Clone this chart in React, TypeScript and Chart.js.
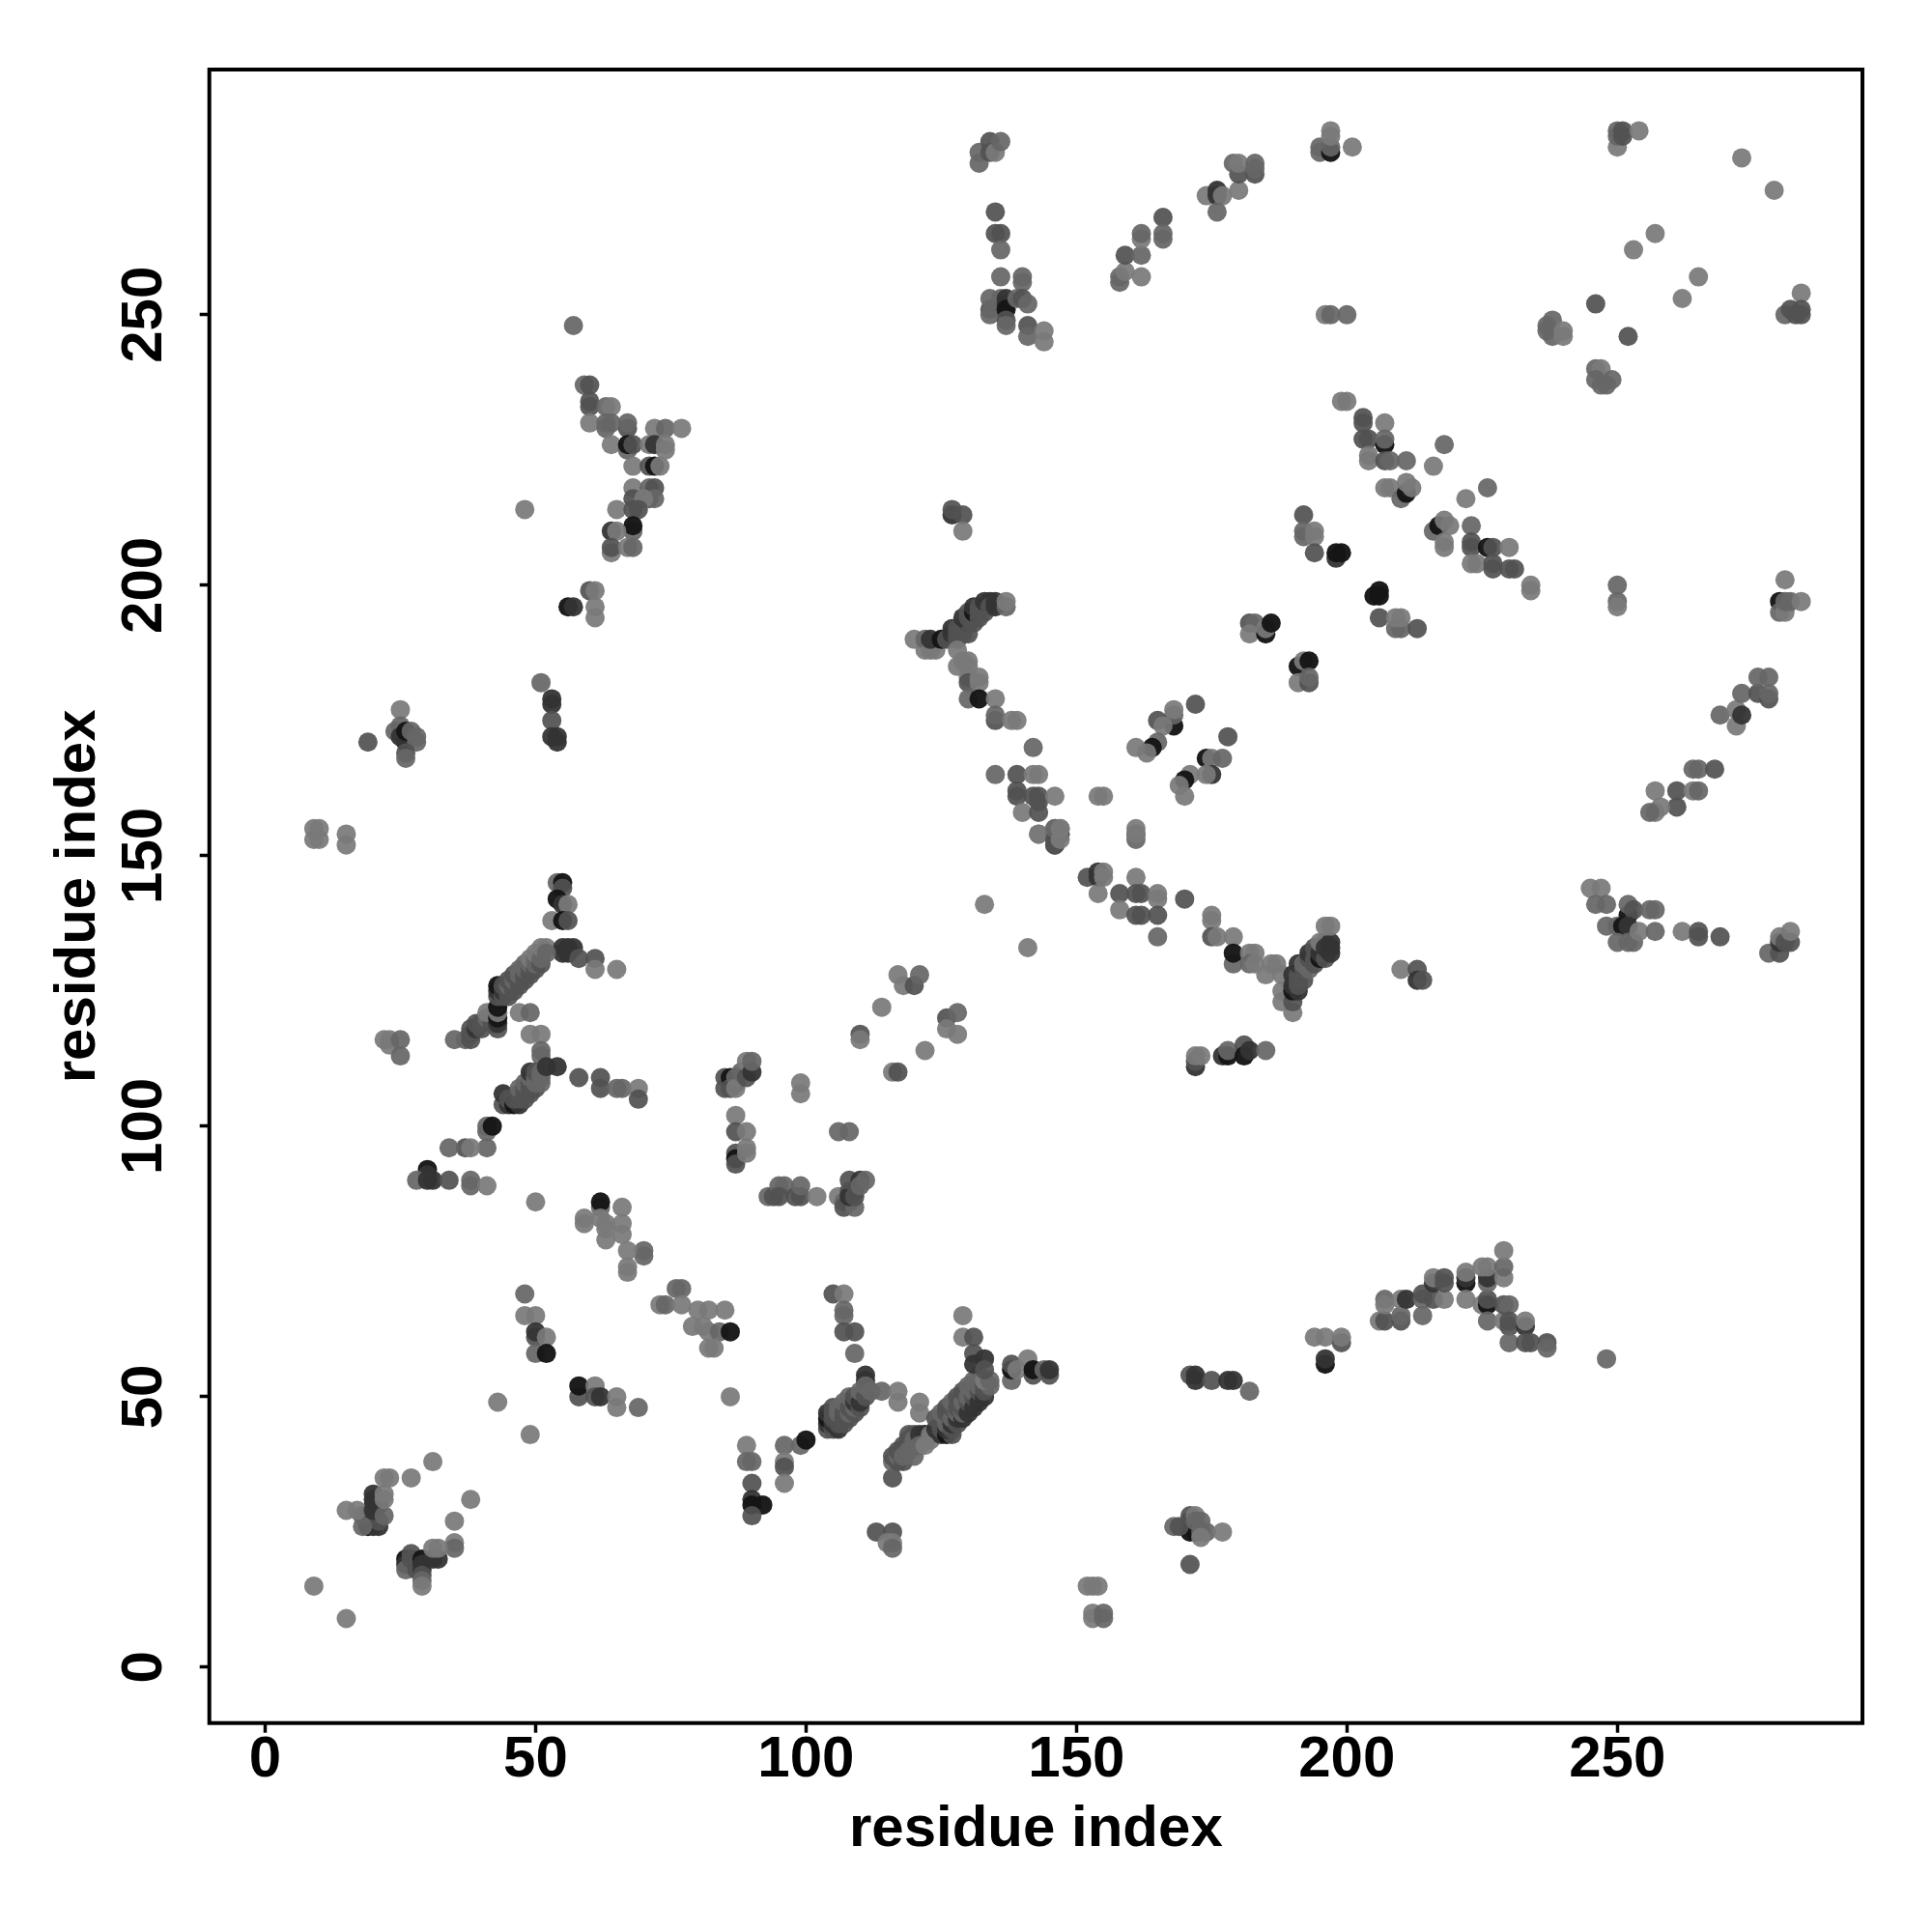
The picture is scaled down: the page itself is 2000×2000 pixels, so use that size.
import React, { useEffect, useRef } from "react";
import { Chart, registerables } from "chart.js";

Chart.register(...registerables);

type Contact = [number, number, number];

const tickValues = [0, 50, 100, 150, 200, 250];
const axisTitle = "residue index";

const lowLeft: Contact[] = [
  [9,15,1],[15,9,1],[31,38,1],[27,35,1],[22,35,1],[23,35,1],[38,31,1],[35,27,1],[35,23,1],[35,22,2],
  [20,32,4],[20,31,4],[20,30,4],[21,30,4],[19,28,4],[19,26,5],[20,26,4],[21,26,4],[20,27,4],[21,27,3],[18,28,3],[18,26,2],[15,29,1],[17,29,1],[20,29,4],[22,28,2],[22,32,1],[22,31,1],
  [26,20,5],[26,19,4],[26,18,2],[27,21,3],[27,20,3],[28,18,3],[28,19,3],[29,20,5],[29,19,4],[29,18,4],[29,17,3],[29,16,2],[29,15,1],[31,20,4],[32,20,4],[31,22,1],[32,22,1],
];
const lowStrandA: Contact[] = [
  [48,69,2],[48,65,1],[50,65,1],[50,61,3],[50,62,4],[52,61,1],[50,58,2],[52,58,5],
  [58,50,3],[58,52,5],[61,52,1],[61,50,3],[62,50,4],[65,50,1],[65,48,1],[69,48,2],[43,49,1],[49,43,1],
];
const lowStrandB: Contact[] = [
  [67,74,1],[67,73,1],[70,77,2],[70,76,2],[67,77,1],[76,70,2],[77,70,2],[73,67,1],[74,67,2],[77,67,1],[80,66,1],[82,66,1],[85,66,1],[79,63,1],[81,63,1],[82,62,1],[84,62,2],[86,62,5],[82,59,1],[83,59,1],[86,50,1],
];
const lowStrandC: Contact[] = [
  [89,41,1],[89,38,2],[90,38,2],[90,34,3],[90,31,4],[90,30,5],[92,30,5],[90,28,3],
  [96,41,2],[96,38,1],[96,37,3],[96,34,1],[99,41,2],[100,42,5],
];
const diagonalOne: Contact[] = [
  [104,44,3],[104,45,4],[104,46,5],[104,47,4],[105,44,3],[105,45,4],[105,46,3],[106,44,4],[106,45,3],[105,47,3],[105,48,3],[106,46,3],[106,47,2],[106,48,2],[107,45,3],[107,46,3],[107,47,3],[107,49,2],[108,46,3],[108,47,2],[108,48,3],[108,50,2],[109,47,3],[109,48,2],[109,49,4],[109,50,3],[110,48,3],[110,50,2],[110,49,4],[110,51,2],[111,50,3],[111,54,4],[111,53,4],[111,52,2],[112,51,2],[114,51,2],[117,51,1],[117,49,1],[121,49,1],[121,47,1],
  [105,69,3],[107,69,1],[107,66,2],[107,65,2],[107,62,3],[109,62,3],[109,58,2],
];
const diagonalTwo: Contact[] = [
  [116,35,3],[116,38,2],[116,39,3],[117,38,3],[117,39,2],[117,40,3],[118,38,3],[118,40,3],[118,41,3],[118,39,2],[119,41,3],[119,42,3],[119,43,3],[119,40,2],[120,41,2],[120,43,3],[120,42,2],[120,39,2],[122,43,5],[121,43,4],[121,41,2],[122,41,1],[123,42,1],[123,43,1],
];
const diagonalThree: Contact[] = [
  [124,44,4],[124,46,3],[125,43,4],[125,44,3],[125,45,3],[125,47,2],[126,43,5],[127,43,3],[126,44,4],[126,45,2],[126,47,3],[126,48,3],[127,44,3],[127,45,4],[127,46,2],[127,48,3],[127,49,2],[128,45,3],[128,46,4],[128,47,2],[128,48,3],[128,50,3],[129,46,4],[129,47,2],[129,48,3],[129,49,2],[129,51,3],[130,47,4],[130,49,3],[130,50,2],[130,52,2],[131,48,4],[131,50,3],[131,51,2],[131,53,2],[132,49,4],[132,51,3],[132,52,2],[132,54,2],[133,50,4],[133,51,3],[133,52,3],[134,52,2],[133,53,1],[134,53,2],
  [129,65,1],[129,61,1],[131,61,3],[131,58,3],[131,56,4],[133,57,4],[133,55,3],
];
const lowMiddle: Contact[] = [
  [138,53,2],[138,55,5],[138,56,3],[139,55,1],[141,57,1],[142,54,3],[142,55,5],[144,55,2],[145,54,3],[145,55,4],
  [113,25,3],[116,25,3],[115,23,1],[116,23,1],[116,22,2],
  [152,15,1],[153,15,1],[154,15,1],[153,10,1],[153,9,1],[155,10,2],[155,9,2],
  [171,27,4],[171,25,5],[172,25,5],[168,26,2],[169,26,3],[171,28,3],[172,28,1],[172,27,2],[173,27,2],[173,25,2],[174,25,2],[173,24,1],[177,25,1],[171,19,3],
  [171,54,3],[172,54,4],[172,53,4],[175,53,3],[178,53,4],[179,53,4],[182,51,2],
];
const lowRight: Contact[] = [
  [194,61,1],[196,61,1],[199,60,3],[199,61,1],[196,56,5],[196,57,4],
  [206,64,1],[207,64,3],[207,68,2],[207,67,1],[210,64,3],[210,65,2],[210,68,1],[211,68,4],[214,65,2],[214,68,2],[214,69,3],[216,68,3],[218,68,1],[216,71,4],[216,72,1],[218,71,3],[218,72,3],
  [222,71,5],[222,72,4],[222,73,1],[222,68,1],[225,67,1],[226,67,5],[226,68,3],[226,64,2],[226,71,2],[226,72,4],[225,74,1],[226,74,1],[229,72,1],[229,74,2],[229,77,1],
  [229,64,1],[229,67,3],[230,67,2],[230,64,3],[230,63,3],[230,60,2],[233,63,4],[233,64,1],[233,60,3],[234,60,3],[237,60,3],[237,59,2],[248,57,2],
];
const midUpperLeft: Contact[] = [
  [9,155,1],[10,155,1],[9,153,1],[10,153,1],[15,154,1],[15,152,1],
  [54,145,2],[55,145,5],[55,144,3],[54,142,5],[55,141,4],[56,141,1],[53,138,1],[55,138,5],[56,138,3],
  [52,133,1],[51,132,1],[57,133,4],[56,133,4],[55,133,4],[55,132,4],[56,132,4],[58,131,3],[61,131,3],[61,129,1],[65,129,1],
];
const midDiagonal: Contact[] = [
  [35,116,2],[37,116,2],[38,116,3],[38,117,3],[38,118,3],[39,118,4],[39,119,3],[40,118,3],[40,119,3],[41,120,2],[42,119,3],[41,121,1],[43,118,3],[43,119,4],[43,120,5],[43,121,1],[43,122,5],[43,124,3],[43,125,4],[43,126,5],
  [44,124,3],[44,125,4],[44,126,3],[45,124,3],[45,125,3],[45,126,2],[45,127,3],[46,125,3],[46,126,3],[46,127,2],[46,128,3],[47,126,3],[47,127,3],[47,128,2],[47,129,2],[48,127,3],[48,128,3],[48,129,2],[48,130,2],[49,128,3],[49,129,3],[49,130,2],[49,131,1],[50,129,3],[50,130,2],[50,131,2],[50,132,1],[51,130,3],[51,131,2],[51,133,1],[52,132,2],
  [47,121,1],[49,121,2],[49,117,1],[51,117,1],[51,114,2],[51,113,2],
  [22,116,1],[23,116,1],[23,115,1],[25,116,2],[25,113,2],
];
const midSecondDiagonal: Contact[] = [
  [44,104,3],[44,106,4],[45,104,4],[45,105,3],[46,104,5],[47,104,4],[46,105,3],[47,105,3],[47,106,3],[47,107,2],[48,105,3],[48,106,3],[48,107,3],[48,108,2],[49,106,3],[49,107,3],[49,108,3],[49,109,2],[49,110,4],[50,107,3],[50,108,2],[50,109,2],[50,110,3],[51,108,2],[51,109,2],[51,110,2],[52,111,4],[54,111,4],
  [58,109,3],[62,109,3],[62,107,3],[65,107,2],[66,107,2],[69,107,1],[69,105,3],
  [41,99,2],[41,100,2],[42,100,5],[41,96,2],[37,96,3],[38,96,1],[34,96,2],
  [30,92,5],[30,91,4],[28,90,2],[30,90,4],[31,90,4],[34,90,3],[38,90,2],[38,89,2],[41,89,1],
];
const midStrandD: Contact[] = [
  [50,86,1],[62,85,2],[62,86,5],[66,85,1],[59,83,1],[59,82,1],[62,83,1],[63,82,1],[63,81,1],[63,79,1],[66,82,1],[66,80,1],
  [85,107,3],[85,109,3],[86,109,5],[87,108,5],[86,107,3],[87,109,2],[87,107,1],[88,110,2],[89,109,3],[89,112,1],[90,110,4],[90,112,2],
  [87,102,1],[87,99,3],[89,99,1],[87,95,3],[87,94,5],[87,93,3],[89,96,1],[89,95,1],[99,108,1],[99,106,1],
];
const midStrandE: Contact[] = [
  [93,87,2],[94,87,3],[95,89,2],[96,89,2],[95,87,3],[98,87,3],[99,87,3],[99,89,2],[102,87,1],[106,87,1],
  [107,86,2],[108,86,3],[107,85,3],[109,85,2],[108,88,3],[109,88,5],[108,87,4],[108,90,3],[110,90,4],[109,87,3],[111,90,2],[110,89,2],
  [106,99,2],[108,99,2],[110,117,3],[110,116,1],[116,110,1],[117,110,3],[122,114,1],[114,122,1],
];
const midCentre: Contact[] = [
  [117,128,1],[118,126,1],[120,126,3],[121,128,2],[126,120,3],[128,121,2],[126,118,1],[128,117,1],
  [133,141,1],[141,133,1],[152,146,3],[154,147,4],[154,146,4],[155,147,1],[155,146,1],[154,143,1],
  [161,146,1],[158,143,3],[161,143,3],[162,143,3],[165,142,1],[165,143,1],[158,140,1],[161,139,3],[162,139,3],[165,139,3],[165,135,2],[170,142,3],
  [175,139,1],[175,138,1],[175,135,3],[176,135,1],[179,135,1],[179,130,2],[179,132,5],[182,132,1],[183,132,1],[182,130,2],[183,130,1],[186,130,1],[185,128,1],[187,130,1],[188,128,1],
];
const midV: Contact[] = [
  [190,121,1],[188,123,1],[188,125,1],[190,123,3],[190,125,5],[190,126,4],[190,128,4],[191,125,4],[191,126,3],[191,127,3],[191,128,3],[191,130,4],[192,127,3],[192,129,3],[192,130,2],[193,129,2],[193,131,3],[193,132,4],[194,130,3],[194,131,3],[194,133,3],[195,131,5],[195,132,4],[196,131,3],[196,134,3],[195,134,1],[196,133,4],[197,132,4],[197,133,4],[197,134,4],[196,137,1],[197,137,1],
  [172,111,4],[172,112,3],[172,113,1],[173,113,1],[177,113,4],[178,113,5],[178,114,2],[181,115,3],[181,113,5],[182,114,4],[185,114,2],
  [143,154,1],[146,152,3],[146,154,4],[147,154,4],[147,155,1],[146,155,1],[161,154,2],[161,153,2],
];
const midRight: Contact[] = [
  [210,129,1],[213,129,3],[213,127,4],[214,127,3],
  [245,144,1],[247,144,1],[246,141,2],[248,141,2],[252,139,5],[252,141,2],[253,140,3],[256,140,2],[257,140,2],
  [248,137,2],[250,137,2],[251,137,5],[252,137,4],[250,134,2],[252,134,2],[253,134,2],[254,136,1],[257,136,2],[262,136,1],[265,136,3],[265,135,3],[269,135,3],
  [278,132,2],[280,132,3],[280,134,4],[280,135,1],[281,134,3],[282,134,3],[282,136,1],
];
const upperWedge: Contact[] = [
  [57,248,2],[59,237,2],[60,237,3],[60,234,3],[60,233,3],[60,230,1],[63,233,2],[64,233,1],[63,229,2],[63,230,2],[64,230,2],[67,229,3],[67,230,2],[64,226,1],[67,225,2],[67,226,5],[68,226,3],
  [72,229,1],[74,229,2],[77,229,1],[71,226,1],[72,226,4],[74,225,1],[74,226,1],[68,222,1],[71,222,3],[72,222,5],[73,222,1],
  [68,218,1],[71,218,2],[72,218,3],[68,216,3],[71,216,3],[72,216,2],[70,216,1],[65,214,1],[68,214,3],[69,214,3],
  [68,210,2],[68,211,5],[64,210,4],[65,210,1],[64,206,1],[64,207,3],[67,207,1],[68,207,2],[48,214,1],
  [60,199,3],[61,199,1],[61,196,1],[61,194,1],[56,196,5],[57,196,4],
  [51,182,2],[53,179,4],[53,178,4],[53,175,3],[53,172,4],[54,172,4],[54,171,4],
  [25,177,1],[25,174,2],[24,173,2],[26,171,5],[25,172,4],[26,173,5],[27,173,2],[28,172,2],[28,171,2],[26,169,3],[26,168,2],[19,171,3],
];
const centreBand: Contact[] = [
  [127,213,4],[127,214,3],[129,213,3],[129,210,1],
  [120,190,1],[122,188,1],[122,190,2],[123,188,1],[124,188,1],[123,190,4],[125,190,5],[126,190,3],[127,191,4],[127,192,4],[128,190,3],[128,191,3],[128,192,3],[129,191,3],[129,192,3],[129,194,4],[130,193,4],[130,191,3],[130,194,3],[130,195,3],[131,193,3],[131,194,3],[131,195,5],[131,196,4],[132,194,3],[132,195,3],[132,196,3],[133,195,3],[133,196,3],[133,197,4],[134,197,4],[134,196,3],[135,196,4],[135,197,4],[137,196,2],[137,197,1],
  [128,188,1],[128,185,1],[129,186,1],[130,186,1],[130,185,1],[130,183,1],[130,182,3],[132,183,1],[132,182,1],[130,179,2],[132,179,5],[135,179,1],
  [135,175,3],[135,176,2],[138,175,1],[139,175,1],[142,170,2],[135,165,2],
  [139,165,3],[139,162,3],[139,161,3],[142,165,1],[143,165,1],[142,161,3],[143,161,3],[143,160,3],[146,161,1],[140,158,1],[143,158,3],[143,154,1],
  [146,152,3],[146,153,3],[146,155,2],[147,155,1],[147,153,1],[154,161,1],[155,161,1],[161,155,1],[161,154,1],
];
const centreStrand: Contact[] = [
  [172,178,3],[168,174,5],[168,176,2],[168,177,1],[165,175,3],[166,174,1],[165,171,2],[164,170,5],[161,170,1],[163,169,1],
  [178,172,3],[174,168,5],[175,168,1],[177,168,2],[175,165,4],[174,165,1],[171,165,1],[170,164,5],[169,163,1],[170,161,1],
  [182,193,3],[183,193,2],[182,191,1],[185,191,5],[185,192,1],[186,193,5],
  [191,185,5],[192,186,1],[193,186,5],[191,182,1],[193,182,3],[193,183,2],
  [192,213,3],[192,210,2],[192,209,2],[194,210,1],[194,209,1],[194,206,3],[198,205,4],[198,206,5],[199,206,5],
  [205,198,5],[206,198,5],[206,199,5],[206,194,3],[209,192,2],[210,192,2],[210,194,1],[209,194,1],[213,192,3],
];
const upperDiagonal: Contact[] = [
  [199,234,1],[200,234,1],[203,231,3],[203,230,3],[207,230,1],[203,227,3],[204,227,3],[207,226,5],[207,227,2],[204,224,1],[204,223,1],[207,223,3],[208,223,2],[211,223,2],[218,226,2],[216,222,1],
  [207,218,1],[208,218,1],[210,216,2],[211,217,5],[211,219,1],[212,218,1],[226,218,2],[222,216,1],
  [216,210,2],[217,211,5],[218,212,1],[219,211,1],[218,208,1],[218,207,1],[223,211,2],[223,208,3],[223,207,3],[226,207,5],[227,207,3],[230,207,1],[223,204,1],[224,204,1],[227,204,3],[227,203,3],[230,203,3],[231,203,3],[234,200,1],[234,199,1],
  [250,200,2],[250,197,2],[250,196,1],[281,201,1],[280,197,5],[280,195,2],[281,195,1],[281,197,2],[282,197,2],[284,197,1],
];
const upperRightBand: Contact[] = [
  [269,176,2],[272,174,1],[272,177,1],[273,176,4],[273,180,2],[276,180,3],[276,183,2],[278,183,2],[278,179,3],[278,180,2],
  [264,166,2],[265,166,2],[268,166,3],[257,162,1],[261,162,3],[264,162,1],[265,162,2],[261,159,3],[258,159,1],[257,158,1],[256,158,2],
];
const topRow: Contact[] = [
  [132,278,2],[132,280,2],[134,280,3],[134,282,3],[135,280,1],[136,282,2],
  [135,269,3],[135,265,3],[136,265,3],[136,262,2],[136,257,2],[140,257,2],[140,256,2],
  [134,251,3],[134,250,2],[134,253,2],[136,253,2],[137,253,4],[137,252,4],[137,251,5],[137,249,3],[137,248,2],[139,253,2],[140,253,3],[141,252,2],[141,248,3],[141,246,2],[144,247,1],[144,245,1],
  [158,256,2],[158,257,2],[159,258,1],[159,261,3],[162,261,2],[162,257,1],[162,264,1],[162,265,2],[166,268,3],[166,265,2],[166,264,2],
  [174,272,1],[176,273,4],[176,272,4],[177,272,1],[176,269,2],[180,273,1],[180,276,3],[179,278,2],[180,278,1],[183,276,3],[183,277,2],[183,278,2],
  [195,280,2],[195,281,2],[197,280,5],[197,281,2],[197,283,1],[197,284,1],[201,281,1],[196,250,1],[197,250,2],[200,250,2],
];
const topRight: Contact[] = [
  [250,281,1],[250,283,2],[250,284,2],[251,283,3],[251,284,3],[254,284,1],[273,279,1],[279,273,1],[257,265,1],[253,262,1],[265,257,1],[262,253,1],[246,252,3],[252,246,3],
  [284,254,1],[281,250,2],[282,251,3],[283,250,3],[284,250,3],[284,251,3],
  [237,248,2],[237,247,2],[238,249,2],[238,246,2],[240,247,1],[240,246,1],
  [246,240,2],[247,240,1],[246,238,2],[247,237,2],[248,237,2],[249,238,2],
];

const contacts: Contact[] = [
  ...lowLeft, ...lowStrandA, ...lowStrandB, ...lowStrandC, ...diagonalOne, ...diagonalTwo, ...diagonalThree,
  ...lowMiddle, ...lowRight, ...midUpperLeft, ...midDiagonal, ...midSecondDiagonal, ...midStrandD, ...midStrandE,
  ...midCentre, ...midV, ...midRight, ...upperWedge, ...centreBand, ...centreStrand, ...upperDiagonal,
  ...upperRightBand, ...topRow, ...topRight,
];

const toneColours = [
  "",
  "rgba(122,122,122,0.93)",
  "rgba(102,102,102,0.93)",
  "rgba(82,82,82,0.93)",
  "rgba(52,52,52,0.95)",
  "rgba(22,22,22,0.97)",
];

const FONT = "'Liberation Sans', Arial, sans-serif";
const PLOT = { left: 216.7, right: 1928, top: 72, bottom: 1783.7 };

const framePlugin = {
  id: "frame",
  afterDraw(chart: any) {
    const { ctx, chartArea: a } = chart;
    ctx.save();
    ctx.strokeStyle = "#000";
    ctx.lineWidth = 4;
    ctx.strokeRect(a.left, a.top, a.right - a.left, a.bottom - a.top);
    ctx.restore();
  },
};

export default function App() {
  const ref = useRef<HTMLCanvasElement | null>(null);
  useEffect(() => {
    if (!ref.current) return;
    const tickFont = { family: FONT, size: 60, weight: "bold" as const };
    const grid = {
      display: true,
      drawOnChartArea: false,
      drawTicks: true,
      tickLength: 10,
      tickWidth: 3.5,
      tickColor: "#000",
    };
    const chart = new Chart(ref.current, {
      type: "scatter",
      data: {
        datasets: [
          {
            data: contacts.map(([x, y]) => ({ x, y })),
            backgroundColor: contacts.map((c) => toneColours[c[2]]),
            borderWidth: 0,
            pointRadius: 10,
            pointHoverRadius: 10,
          },
        ],
      },
      options: {
        animation: false,
        responsive: false,
        devicePixelRatio: 1,
        events: [],
        layout: {
          autoPadding: false,
          padding: { left: 0, bottom: 0, top: PLOT.top, right: 2000 - PLOT.right },
        },
        plugins: { legend: { display: false }, tooltip: { enabled: false } },
        scales: {
          x: {
            type: "linear",
            min: -10.32,
            max: 295.32,
            afterBuildTicks: (s: any) => {
              s.ticks = tickValues.map((value) => ({ value }));
            },
            afterFit: (s: any) => {
              s.height = 2000 - PLOT.bottom;
            },
            grid,
            border: { display: false },
            ticks: {
              autoSkip: false,
              maxRotation: 0,
              minRotation: 0,
              padding: -7,
              color: "#000",
              font: tickFont,
            },
            title: {
              display: true,
              text: axisTitle,
              color: "#000",
              font: tickFont,
              padding: { top: 0, bottom: 70 },
            },
          },
          y: {
            type: "linear",
            min: -10.32,
            max: 295.32,
            afterBuildTicks: (s: any) => {
              s.ticks = tickValues.map((value) => ({ value }));
            },
            afterFit: (s: any) => {
              s.width = PLOT.left;
            },
            grid,
            border: { display: false },
            ticks: {
              autoSkip: false,
              minRotation: 90,
              maxRotation: 90,
              crossAlign: "center",
              padding: 6,
              color: "#000",
              font: tickFont,
            },
            title: {
              display: true,
              text: axisTitle,
              color: "#000",
              font: tickFont,
              padding: { top: 45, bottom: 0 },
            },
          },
        },
      },
      plugins: [framePlugin],
    } as any);
    return () => chart.destroy();
  }, []);
  return (
    <div style={{ position: "absolute", left: 0, top: 0, width: 2000, height: 2000, background: "#fff" }}>
      <canvas ref={ref} width={2000} height={2000} style={{ display: "block", width: 2000, height: 2000 }} />
    </div>
  );
}
